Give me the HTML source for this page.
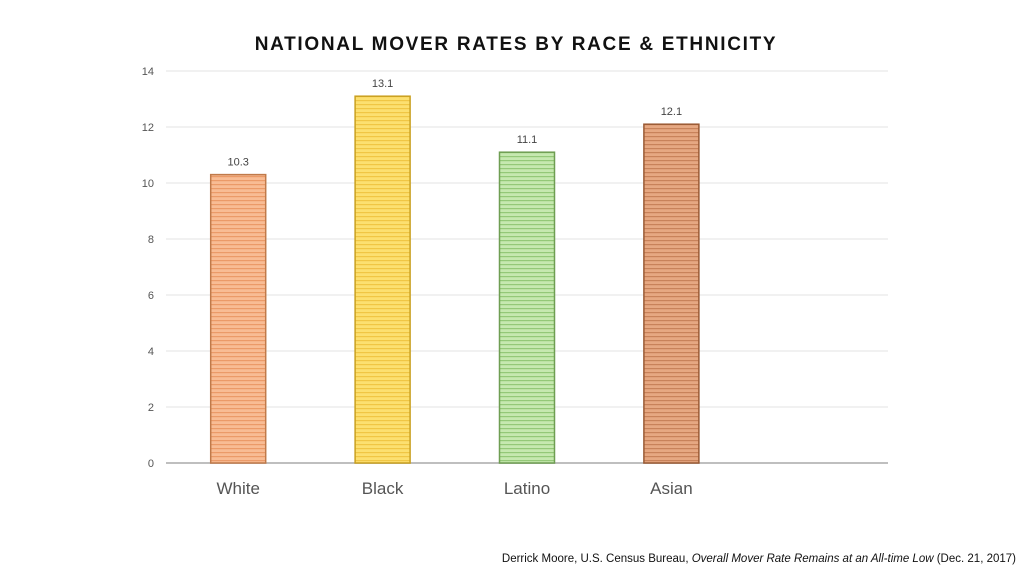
<!DOCTYPE html>
<html><head><meta charset="utf-8"><style>
body{margin:0;background:#fff;font-family:"Liberation Sans",sans-serif}
svg{display:block}
</style></head><body>
<svg width="1024" height="576">
<defs>
<pattern id="p0" width="4" height="4" patternUnits="userSpaceOnUse"><rect width="4" height="4" fill="#f8bc94"/><rect width="4" height="1.2" fill="#eb9a68"/></pattern>
<pattern id="p1" width="4" height="4" patternUnits="userSpaceOnUse"><rect width="4" height="4" fill="#fce070"/><rect width="4" height="1.2" fill="#f0c644"/></pattern>
<pattern id="p2" width="4" height="4" patternUnits="userSpaceOnUse"><rect width="4" height="4" fill="#c6e8b0"/><rect width="4" height="1.2" fill="#94c878"/></pattern>
<pattern id="p3" width="4" height="4" patternUnits="userSpaceOnUse"><rect width="4" height="4" fill="#e6a882"/><rect width="4" height="1.2" fill="#c8825a"/></pattern>
</defs>
<text x="516" y="50" text-anchor="middle" font-size="19" font-weight="bold" letter-spacing="1.7" fill="#111">NATIONAL MOVER RATES BY RACE &amp; ETHNICITY</text>
<g id="grid"></g><g id="bars"></g>
<text x="1016" y="562" text-anchor="end" font-size="11.5" fill="#111">Derrick Moore, U.S. Census Bureau, <tspan font-style="italic">Overall Mover Rate Remains at an All-time Low</tspan> (Dec. 21, 2017)</text>
</svg>
<script>
const categories=["White","Black","Latino","Asian"];
const values=[10.3,13.1,11.1,12.1];
const ticks=[0,2,4,6,8,10,12,14];
const fills=["url(#p0)","url(#p1)","url(#p2)","url(#p3)"];
const strokes=["#c07a4a","#c9a020","#6f9e52","#9a5a34"];
const NS="http://www.w3.org/2000/svg";
const x0=166,x1=888,nSlots=5,yBase=463,yTop=71,yMax=14;
const y=v=>yBase-(v/yMax)*(yBase-yTop);
const slot=(x1-x0)/nSlots;
const xc=i=>x0+slot*(i+0.5);
function mk(t,a,p){const e=document.createElementNS(NS,t);for(const k in a)e.setAttribute(k,a[k]);p.appendChild(e);return e;}
const g=document.getElementById("grid"),b=document.getElementById("bars");
ticks.forEach(t=>{
 const l=mk("line",{x1:x0,x2:x1,y1:y(t),y2:y(t),stroke:t===0?"#bfbfbf":"#e3e3e3","stroke-width":t===0?2:1},g);
 
 
 const tx=mk("text",{x:154,y:y(t)+4,"text-anchor":"end","font-size":11,fill:"#555"},g);
 tx.textContent=t;
 
 
});
categories.forEach((c,i)=>{
 const w=55,h=yBase-y(values[i]);
 const r=mk("rect",{x:xc(i)-w/2,y:y(values[i]),width:w,height:h,fill:fills[i],stroke:strokes[i],"stroke-width":1.5},b);
 
 
 const v=mk("text",{x:xc(i),y:y(values[i])-9,"text-anchor":"middle","font-size":11,fill:"#444"},b);
 v.textContent=values[i].toFixed(1);
 
 
 const l=mk("text",{x:xc(i),y:494,"text-anchor":"middle","font-size":17,fill:"#555"},b);
 l.textContent=c;
 
 
});
</script>
</body></html>
